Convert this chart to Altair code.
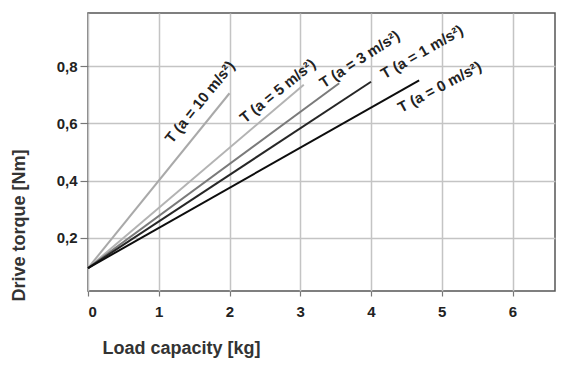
import altair as alt
import pandas as pd

# Data
accel = [10, 5, 3, 1, 0]
labels = ["T (a = 10 m/s²)", "T (a = 5 m/s²)", "T (a = 3 m/s²)", "T (a = 1 m/s²)", "T (a = 0 m/s²)"]
start_load = 0.0
start_torque = 0.095
end_load = [2.0, 3.05, 3.55, 4.0, 4.68]
end_torque = [0.705, 0.735, 0.74, 0.745, 0.75]

# label anchor points (data coords)
label_x = [1.58, 2.68, 3.84, 4.72, 4.97]
label_y = [0.674, 0.713, 0.824, 0.849, 0.727]

# styles
colors = ["#a9a9a9", "#b3b3b3", "#7a7a7a", "#262626", "#0d0d0d"]
widths = [2.0, 2.0, 2.0, 2.2, 2.5]
angles = [309, 321, 327, 330, 332]

rows = []
for i, a in enumerate(accel):
    rows.append({"s": labels[i], "load": start_load, "torque": start_torque, "order": 0})
    rows.append({"s": labels[i], "load": end_load[i], "torque": end_torque[i], "order": 1})
line_df = pd.DataFrame(rows)

lab_df = pd.DataFrame({"s": labels, "x": label_x, "y": label_y, "angle": angles})

FONT = "Liberation Sans"

xscale = alt.Scale(domain=[0, 6.6], nice=False, zero=False)
yscale = alt.Scale(domain=[0.015, 0.985], nice=False, zero=False)

xaxis = alt.Axis(
    values=[0, 1, 2, 3, 4, 5, 6], format="d", title="Load capacity [kg]", grid=True,
    gridColor="#c4c4c4", gridWidth=1.5, domain=False,
    tickColor="#777", tickSize=5, tickWidth=1.2,
    labelFont=FONT, labelFontSize=15, labelFontWeight="bold", labelColor="#222",
    labelPadding=8,
    titleFont=FONT, titleFontSize=18, titleFontWeight="bold", titleColor="#333",
    titleAnchor="start", titleAlign="left", titleBaseline="alphabetic",
    titleX=14, titleY=62,
)
yaxis = alt.Axis(
    values=[0.2, 0.4, 0.6, 0.8], title="Drive torque [Nm]", grid=True,
    gridColor="#c4c4c4", gridWidth=1.5, domain=False,
    labelExpr="replace(format(datum.value, '.1f'), '.', ',')",
    tickColor="#777", tickSize=8, tickWidth=1.2,
    labelFont=FONT, labelFontSize=15, labelFontWeight="bold", labelColor="#222",
    labelPadding=3,
    titleFont=FONT, titleFontSize=18, titleFontWeight="bold", titleColor="#333",
    titleAngle=270, titleAlign="center", titleBaseline="alphabetic",
    titleX=-64, titleY=212,
)

lines = alt.Chart(line_df).mark_line(strokeCap="butt").encode(
    x=alt.X("load:Q", scale=xscale, axis=xaxis),
    y=alt.Y("torque:Q", scale=yscale, axis=yaxis),
    detail="s:N",
    order="order:Q",
    color=alt.Color("s:N", scale=alt.Scale(domain=labels, range=colors), legend=None),
    strokeWidth=alt.StrokeWidth("s:N", scale=alt.Scale(domain=labels, range=widths), legend=None),
)

texts = alt.Chart(lab_df).mark_text(
    font=FONT, fontSize=15, fontWeight="bold", color="#222",
    align="center", baseline="middle",
).encode(
    x=alt.X("x:Q", scale=xscale),
    y=alt.Y("y:Q", scale=yscale),
    text="s:N",
    angle=alt.Angle("angle:Q", scale=None),
)

chart = (lines + texts).properties(
    width=467, height=278,
    background="white",
    autosize=alt.AutoSizeParams(type="none"),
    padding={"left": 80, "top": 5, "right": 7, "bottom": 76},
).configure_view(stroke="#555", strokeWidth=1.5)

chart.save("out.html", embed_options={"renderer": "svg", "actions": False})
